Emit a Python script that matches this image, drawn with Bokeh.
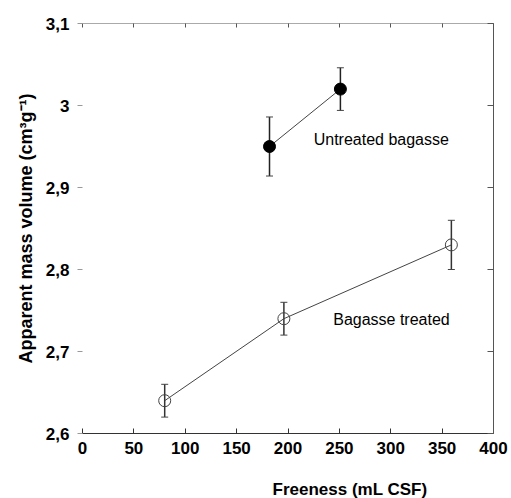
from bokeh.plotting import figure
from bokeh.models import (LinearAxis, FixedTicker, Whisker, ColumnDataSource, Range1d, Label,
                          CustomLabelingPolicy, Title)
from bokeh.embed import file_html
from bokeh.resources import INLINE

# Data
untreated_x = [182, 251]
untreated_y = [2.95, 3.02]
untreated_err = [0.036, 0.026]
treated_x = [80, 196, 359]
treated_y = [2.64, 2.74, 2.83]
treated_err = [0.02, 0.02, 0.03]

x_ticks = [0, 50, 100, 150, 200, 250, 300, 350, 400]
y_ticks = [2.6, 2.7, 2.8, 2.9, 3.0, 3.1]
y_tick_labels = ["2,6", "2,7", "2,8", "2,9", "3", "3,1"]

FONT = "Liberation Sans"

p = figure(width=511, height=498, output_backend="svg", toolbar_location=None,
           x_range=Range1d(0, 400), y_range=Range1d(2.6, 3.1),
           x_axis_location=None, y_axis_location=None,
           min_border_left=82, min_border_right=17, min_border_top=23, min_border_bottom=64)
p.outline_line_color = None
p.xgrid.visible = False
p.ygrid.visible = False
p.background_fill_color = "white"
p.border_fill_color = "white"

# bottom axis
xb = LinearAxis(ticker=FixedTicker(ticks=x_ticks))
xb.axis_line_color = "#333333"
xb.major_tick_in = 5
xb.major_tick_out = 0
xb.major_tick_line_color = "#333333"
xb.minor_tick_line_color = None
xb.major_label_text_font = FONT
xb.major_label_text_font_style = "bold"
xb.major_label_text_font_size = "17px"
xb.major_label_text_color = "black"
xb.major_label_standoff = 8
p.add_layout(xb, "below")

# invisible spacer axis between tick labels and the x title
spacer = LinearAxis(ticker=FixedTicker(ticks=[200]),
                    major_label_policy=CustomLabelingPolicy(code="return []"))
spacer.axis_line_color = None
spacer.major_tick_line_color = None
spacer.minor_tick_line_color = None
spacer.major_tick_in = 0
spacer.major_tick_out = 17
spacer.major_label_standoff = 0
spacer.major_label_text_font_size = "1px"
p.add_layout(spacer, "below")

# x axis title (offset to the right as in the reference)
xtitle = Title(text="Freeness (mL CSF)", align="left", offset=190,
               text_font=FONT, text_font_style="bold", text_font_size="17px",
               text_color="black", standoff=0)
p.add_layout(xtitle, "below")

# left axis
yl = LinearAxis(ticker=FixedTicker(ticks=y_ticks),
                axis_label="Apparent mass volume (cm\u00b3g\u207b\u00b9)")
yl.major_label_overrides = {t: l for t, l in zip(y_ticks, y_tick_labels)}
yl.axis_line_color = None
yl.major_tick_in = 0
yl.major_tick_out = 5
yl.major_tick_line_color = "#999999"
yl.minor_tick_line_color = None
yl.major_label_text_font = FONT
yl.major_label_text_font_style = "bold"
yl.major_label_text_font_size = "17px"
yl.major_label_text_color = "black"
yl.major_label_standoff = 8
yl.axis_label_text_font = FONT
yl.axis_label_text_font_style = "bold"
yl.axis_label_text_font_size = "18px"
yl.axis_label_text_color = "black"
yl.axis_label_standoff = 7
p.add_layout(yl, "left")

# top axis
xt = LinearAxis(ticker=FixedTicker(ticks=x_ticks),
                major_label_policy=CustomLabelingPolicy(code="return []"))
xt.axis_line_color = "#aaaaaa"
xt.major_tick_in = 4
xt.major_tick_out = 0
xt.major_tick_line_color = "#555555"
xt.minor_tick_line_color = None
xt.major_label_standoff = 0
p.add_layout(xt, "above")

# right axis
yr = LinearAxis(ticker=FixedTicker(ticks=y_ticks),
                major_label_policy=CustomLabelingPolicy(code="return []"))
yr.axis_line_color = "#555555"
yr.major_tick_in = 6
yr.major_tick_out = 0
yr.major_tick_line_color = "#555555"
yr.minor_tick_line_color = None
yr.major_label_standoff = 0
p.add_layout(yr, "right")

# untreated series
su = ColumnDataSource(dict(x=untreated_x, y=untreated_y,
                           lo=[y - e for y, e in zip(untreated_y, untreated_err)],
                           hi=[y + e for y, e in zip(untreated_y, untreated_err)]))
wu = Whisker(source=su, base="x", lower="lo", upper="hi", line_color="#222222", line_width=1.5)
wu.upper_head.size = 7
wu.lower_head.size = 7
wu.upper_head.line_color = "#444444"
wu.lower_head.line_color = "#444444"
p.add_layout(wu)
p.line("x", "y", source=su, line_color="#444444", line_width=1)
p.scatter("x", "y", source=su, size=12, fill_color="black", line_color="black")

# treated series
st = ColumnDataSource(dict(x=treated_x, y=treated_y,
                           lo=[y - e for y, e in zip(treated_y, treated_err)],
                           hi=[y + e for y, e in zip(treated_y, treated_err)]))
wt = Whisker(source=st, base="x", lower="lo", upper="hi", line_color="#333333", line_width=1.5)
wt.upper_head.size = 7
wt.lower_head.size = 7
wt.upper_head.line_color = "#444444"
wt.lower_head.line_color = "#444444"
p.add_layout(wt)
p.line("x", "y", source=st, line_color="#444444", line_width=1)
p.scatter("x", "y", source=st, size=12, fill_color=None, line_color="#444444", line_width=1)

p.add_layout(Label(x=225, y=2.958, text="Untreated bagasse", text_font=FONT,
                   text_font_size="16px", text_baseline="middle", text_color="black"))
p.add_layout(Label(x=244, y=2.739, text="Bagasse treated", text_font=FONT,
                   text_font_size="16px", text_baseline="middle", text_color="black"))

open("out.html", "w").write(file_html(p, INLINE))
